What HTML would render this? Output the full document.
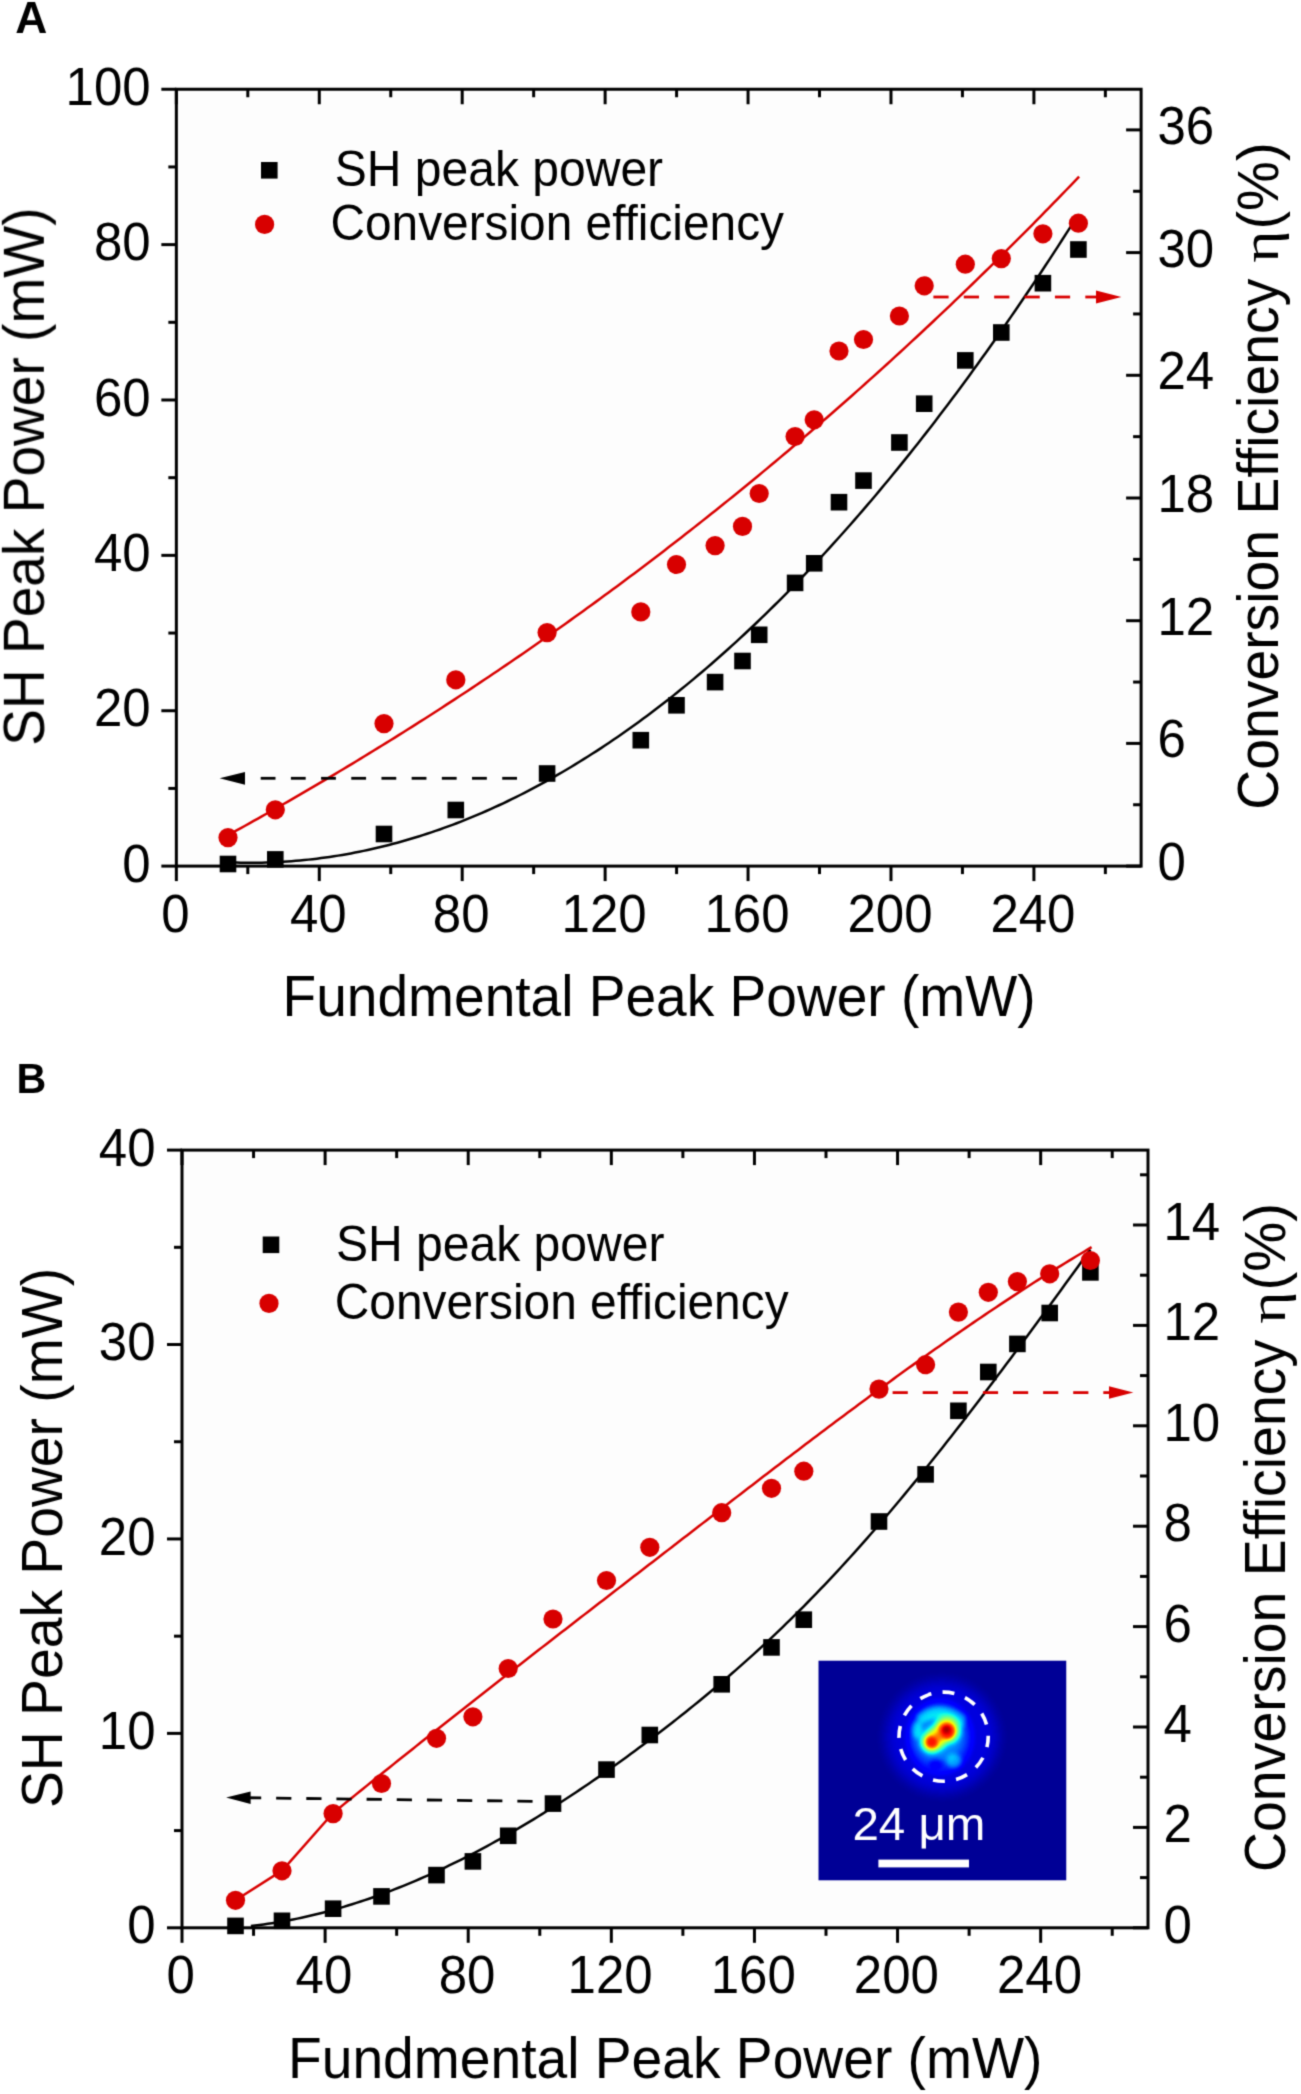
<!DOCTYPE html><html><head><meta charset="utf-8"><style>html,body{margin:0;padding:0;background:#fff}svg{display:block}text{font-family:"Liberation Sans",sans-serif}</style></head><body><svg width="1301" height="2094" viewBox="0 0 1301 2094" font-family="Liberation Sans, sans-serif">
<rect width="1301" height="2094" fill="#fff"/>
<defs><filter id="soft" x="0" y="0" width="1301" height="2094" filterUnits="userSpaceOnUse" color-interpolation-filters="sRGB"><feConvolveMatrix order="3" kernelMatrix="0.02768 0.11101 0.02768 0.11101 0.44521 0.11101 0.02768 0.11101 0.02768" edgeMode="duplicate"/></filter></defs>
<g filter="url(#soft)">
<rect x="176.35" y="89.25" width="964.7499999999999" height="776.85" fill="#fdfdfd"/>
<line x1="176.35" y1="866.10" x2="176.35" y2="881.10" stroke="#000" stroke-width="3" />
<line x1="176.35" y1="89.25" x2="176.35" y2="104.25" stroke="#000" stroke-width="3" />
<line x1="247.81" y1="866.10" x2="247.81" y2="874.10" stroke="#000" stroke-width="3" />
<line x1="247.81" y1="89.25" x2="247.81" y2="97.25" stroke="#000" stroke-width="3" />
<line x1="319.28" y1="866.10" x2="319.28" y2="881.10" stroke="#000" stroke-width="3" />
<line x1="319.28" y1="89.25" x2="319.28" y2="104.25" stroke="#000" stroke-width="3" />
<line x1="390.74" y1="866.10" x2="390.74" y2="874.10" stroke="#000" stroke-width="3" />
<line x1="390.74" y1="89.25" x2="390.74" y2="97.25" stroke="#000" stroke-width="3" />
<line x1="462.20" y1="866.10" x2="462.20" y2="881.10" stroke="#000" stroke-width="3" />
<line x1="462.20" y1="89.25" x2="462.20" y2="104.25" stroke="#000" stroke-width="3" />
<line x1="533.66" y1="866.10" x2="533.66" y2="874.10" stroke="#000" stroke-width="3" />
<line x1="533.66" y1="89.25" x2="533.66" y2="97.25" stroke="#000" stroke-width="3" />
<line x1="605.13" y1="866.10" x2="605.13" y2="881.10" stroke="#000" stroke-width="3" />
<line x1="605.13" y1="89.25" x2="605.13" y2="104.25" stroke="#000" stroke-width="3" />
<line x1="676.59" y1="866.10" x2="676.59" y2="874.10" stroke="#000" stroke-width="3" />
<line x1="676.59" y1="89.25" x2="676.59" y2="97.25" stroke="#000" stroke-width="3" />
<line x1="748.05" y1="866.10" x2="748.05" y2="881.10" stroke="#000" stroke-width="3" />
<line x1="748.05" y1="89.25" x2="748.05" y2="104.25" stroke="#000" stroke-width="3" />
<line x1="819.52" y1="866.10" x2="819.52" y2="874.10" stroke="#000" stroke-width="3" />
<line x1="819.52" y1="89.25" x2="819.52" y2="97.25" stroke="#000" stroke-width="3" />
<line x1="890.98" y1="866.10" x2="890.98" y2="881.10" stroke="#000" stroke-width="3" />
<line x1="890.98" y1="89.25" x2="890.98" y2="104.25" stroke="#000" stroke-width="3" />
<line x1="962.44" y1="866.10" x2="962.44" y2="874.10" stroke="#000" stroke-width="3" />
<line x1="962.44" y1="89.25" x2="962.44" y2="97.25" stroke="#000" stroke-width="3" />
<line x1="1033.91" y1="866.10" x2="1033.91" y2="881.10" stroke="#000" stroke-width="3" />
<line x1="1033.91" y1="89.25" x2="1033.91" y2="104.25" stroke="#000" stroke-width="3" />
<line x1="1105.37" y1="866.10" x2="1105.37" y2="874.10" stroke="#000" stroke-width="3" />
<line x1="1105.37" y1="89.25" x2="1105.37" y2="97.25" stroke="#000" stroke-width="3" />
<line x1="161.35" y1="866.10" x2="176.35" y2="866.10" stroke="#000" stroke-width="3" />
<line x1="168.35" y1="788.41" x2="176.35" y2="788.41" stroke="#000" stroke-width="3" />
<line x1="161.35" y1="710.73" x2="176.35" y2="710.73" stroke="#000" stroke-width="3" />
<line x1="168.35" y1="633.05" x2="176.35" y2="633.05" stroke="#000" stroke-width="3" />
<line x1="161.35" y1="555.36" x2="176.35" y2="555.36" stroke="#000" stroke-width="3" />
<line x1="168.35" y1="477.68" x2="176.35" y2="477.68" stroke="#000" stroke-width="3" />
<line x1="161.35" y1="399.99" x2="176.35" y2="399.99" stroke="#000" stroke-width="3" />
<line x1="168.35" y1="322.31" x2="176.35" y2="322.31" stroke="#000" stroke-width="3" />
<line x1="161.35" y1="244.62" x2="176.35" y2="244.62" stroke="#000" stroke-width="3" />
<line x1="168.35" y1="166.94" x2="176.35" y2="166.94" stroke="#000" stroke-width="3" />
<line x1="161.35" y1="89.25" x2="176.35" y2="89.25" stroke="#000" stroke-width="3" />
<line x1="1126.10" y1="866.10" x2="1141.10" y2="866.10" stroke="#000" stroke-width="3" />
<line x1="1133.10" y1="804.75" x2="1141.10" y2="804.75" stroke="#000" stroke-width="3" />
<line x1="1126.10" y1="743.40" x2="1141.10" y2="743.40" stroke="#000" stroke-width="3" />
<line x1="1133.10" y1="682.05" x2="1141.10" y2="682.05" stroke="#000" stroke-width="3" />
<line x1="1126.10" y1="620.70" x2="1141.10" y2="620.70" stroke="#000" stroke-width="3" />
<line x1="1133.10" y1="559.35" x2="1141.10" y2="559.35" stroke="#000" stroke-width="3" />
<line x1="1126.10" y1="498.00" x2="1141.10" y2="498.00" stroke="#000" stroke-width="3" />
<line x1="1133.10" y1="436.65" x2="1141.10" y2="436.65" stroke="#000" stroke-width="3" />
<line x1="1126.10" y1="375.30" x2="1141.10" y2="375.30" stroke="#000" stroke-width="3" />
<line x1="1133.10" y1="313.95" x2="1141.10" y2="313.95" stroke="#000" stroke-width="3" />
<line x1="1126.10" y1="252.60" x2="1141.10" y2="252.60" stroke="#000" stroke-width="3" />
<line x1="1133.10" y1="191.25" x2="1141.10" y2="191.25" stroke="#000" stroke-width="3" />
<line x1="1126.10" y1="129.90" x2="1141.10" y2="129.90" stroke="#000" stroke-width="3" />
<rect x="176.35" y="89.25" width="964.7499999999999" height="776.85" fill="none" stroke="#000" stroke-width="3"/>
<text transform="translate(175.35,931.50) scale(1,1.04)" font-size="51" text-anchor="middle">0</text>
<text transform="translate(318.28,931.50) scale(1,1.04)" font-size="51" text-anchor="middle">40</text>
<text transform="translate(461.20,931.50) scale(1,1.04)" font-size="51" text-anchor="middle">80</text>
<text transform="translate(604.13,931.50) scale(1,1.04)" font-size="51" text-anchor="middle">120</text>
<text transform="translate(747.05,931.50) scale(1,1.04)" font-size="51" text-anchor="middle">160</text>
<text transform="translate(889.98,931.50) scale(1,1.04)" font-size="51" text-anchor="middle">200</text>
<text transform="translate(1032.91,931.50) scale(1,1.04)" font-size="51" text-anchor="middle">240</text>
<text transform="translate(150.60,881.70) scale(1,1.04)" font-size="51" text-anchor="end">0</text>
<text transform="translate(150.60,726.33) scale(1,1.04)" font-size="51" text-anchor="end">20</text>
<text transform="translate(150.60,570.96) scale(1,1.04)" font-size="51" text-anchor="end">40</text>
<text transform="translate(150.60,415.59) scale(1,1.04)" font-size="51" text-anchor="end">60</text>
<text transform="translate(150.60,260.22) scale(1,1.04)" font-size="51" text-anchor="end">80</text>
<text transform="translate(150.60,104.85) scale(1,1.04)" font-size="51" text-anchor="end">100</text>
<text transform="translate(1157.50,880.10) scale(1,1.04)" font-size="51" text-anchor="start">0</text>
<text transform="translate(1157.50,757.40) scale(1,1.04)" font-size="51" text-anchor="start">6</text>
<text transform="translate(1157.50,634.70) scale(1,1.04)" font-size="51" text-anchor="start">12</text>
<text transform="translate(1157.50,512.00) scale(1,1.04)" font-size="51" text-anchor="start">18</text>
<text transform="translate(1157.50,389.30) scale(1,1.04)" font-size="51" text-anchor="start">24</text>
<text transform="translate(1157.50,266.60) scale(1,1.04)" font-size="51" text-anchor="start">30</text>
<text transform="translate(1157.50,143.90) scale(1,1.04)" font-size="51" text-anchor="start">36</text>
<text transform="translate(15.27,32.60) scale(0.44394,0.43728)" font-size="100" font-weight="bold" fill="#000">A</text>
<text transform="translate(44.00,745.75) rotate(-90) scale(0.55057,0.56709)" font-size="100" fill="#000">SH Peak Power (mW)</text>
<text transform="translate(1278.30,809.77) rotate(-90) scale(0.55346,0.57006)" font-size="100" fill="#000">Conversion Efficiency</text>
<text transform="translate(1278.30,229.57) rotate(-90) scale(0.56084,0.57766)" font-size="100" fill="#000">(%)</text>
<text transform="translate(1278.30,262.66) rotate(-90) scale(0.61748,0.53269)" font-size="100" style="font-family:Liberation Serif,serif" fill="#000">η</text>
<text transform="translate(282.59,1016.00) scale(0.55078,0.56730)" font-size="100" fill="#000">Fundmental Peak Power (mW)</text>
<rect x="261.00" y="162.00" width="16.6" height="16.6" fill="#000"/>
<circle cx="264.6" cy="224.4" r="9.6" fill="#d80000"/>
<text transform="translate(334.80,186.40) scale(0.48021,0.49942)" font-size="100" fill="#000">SH peak power</text>
<text transform="translate(330.51,239.90) scale(0.47805,0.49717)" font-size="100" fill="#000">Conversion efficiency</text>
<path d="M228.00,862.32 L232.23,862.47 L236.47,862.59 L240.70,862.68 L244.94,862.74 L249.17,862.77 L253.41,862.76 L257.64,862.71 L261.88,862.64 L266.11,862.53 L270.35,862.39 L274.58,862.21 L278.82,862.01 L283.05,861.77 L287.29,861.49 L291.52,861.19 L295.75,860.84 L299.99,860.47 L304.22,860.06 L308.46,859.63 L312.69,859.15 L316.93,858.65 L321.16,858.11 L325.40,857.53 L329.63,856.93 L333.87,856.29 L338.10,855.62 L342.34,854.91 L346.57,854.17 L350.81,853.40 L355.04,852.59 L359.27,851.75 L363.51,850.88 L367.74,849.97 L371.98,849.03 L376.21,848.06 L380.45,847.05 L384.68,846.01 L388.92,844.94 L393.15,843.83 L397.39,842.69 L401.62,841.52 L405.86,840.31 L410.09,839.07 L414.33,837.80 L418.56,836.49 L422.79,835.15 L427.03,833.77 L431.26,832.36 L435.50,830.92 L439.73,829.45 L443.97,827.94 L448.20,826.39 L452.44,824.82 L456.67,823.21 L460.91,821.56 L465.14,819.88 L469.38,818.17 L473.61,816.43 L477.85,814.65 L482.08,812.84 L486.32,810.99 L490.55,809.11 L494.78,807.20 L499.02,805.25 L503.25,803.27 L507.49,801.25 L511.72,799.20 L515.96,797.12 L520.19,795.00 L524.43,792.85 L528.66,790.67 L532.90,788.45 L537.13,786.19 L541.37,783.91 L545.60,781.59 L549.84,779.23 L554.07,776.84 L558.30,774.42 L562.54,771.97 L566.77,769.47 L571.01,766.95 L575.24,764.39 L579.48,761.80 L583.71,759.17 L587.95,756.51 L592.18,753.82 L596.42,751.09 L600.65,748.33 L604.89,745.53 L609.12,742.70 L613.36,739.83 L617.59,736.93 L621.82,734.00 L626.06,731.03 L630.29,728.03 L634.53,724.99 L638.76,721.92 L643.00,718.82 L647.23,715.68 L651.47,712.51 L655.70,709.30 L659.94,706.06 L664.17,702.78 L668.41,699.47 L672.64,696.12 L676.88,692.74 L681.11,689.33 L685.34,685.88 L689.58,682.40 L693.81,678.88 L698.05,675.33 L702.28,671.75 L706.52,668.13 L710.75,664.47 L714.99,660.78 L719.22,657.06 L723.46,653.30 L727.69,649.51 L731.93,645.68 L736.16,641.82 L740.40,637.93 L744.63,634.00 L748.86,630.03 L753.10,626.03 L757.33,622.00 L761.57,617.93 L765.80,613.83 L770.04,609.69 L774.27,605.51 L778.51,601.31 L782.74,597.06 L786.98,592.79 L791.21,588.48 L795.45,584.13 L799.68,579.75 L803.92,575.33 L808.15,570.88 L812.38,566.40 L816.62,561.88 L820.85,557.32 L825.09,552.73 L829.32,548.11 L833.56,543.45 L837.79,538.76 L842.03,534.03 L846.26,529.26 L850.50,524.47 L854.73,519.63 L858.97,514.76 L863.20,509.86 L867.44,504.92 L871.67,499.95 L875.91,494.94 L880.14,489.90 L884.37,484.82 L888.61,479.71 L892.84,474.56 L897.08,469.37 L901.31,464.16 L905.55,458.90 L909.78,453.61 L914.02,448.29 L918.25,442.93 L922.49,437.54 L926.72,432.11 L930.96,426.65 L935.19,421.15 L939.43,415.61 L943.66,410.04 L947.89,404.44 L952.13,398.80 L956.36,393.13 L960.60,387.42 L964.83,381.67 L969.07,375.89 L973.30,370.07 L977.54,364.22 L981.77,358.34 L986.01,352.41 L990.24,346.46 L994.48,340.46 L998.71,334.44 L1002.95,328.37 L1007.18,322.28 L1011.41,316.14 L1015.65,309.97 L1019.88,303.77 L1024.12,297.53 L1028.35,291.25 L1032.59,284.94 L1036.82,278.60 L1041.06,272.21 L1045.29,265.80 L1049.53,259.34 L1053.76,252.86 L1058.00,246.33 L1062.23,239.77 L1066.47,233.18 L1070.70,226.55" fill="none" stroke="#000" stroke-width="2.5" stroke-linejoin="round" />
<path d="M228.00,835.16 L232.28,832.82 L236.55,830.46 L240.83,828.10 L245.11,825.72 L249.38,823.34 L253.66,820.96 L257.94,818.56 L262.22,816.16 L266.49,813.75 L270.77,811.33 L275.05,808.90 L279.32,806.47 L283.60,804.02 L287.88,801.57 L292.15,799.11 L296.43,796.65 L300.71,794.17 L304.98,791.69 L309.26,789.20 L313.54,786.69 L317.81,784.19 L322.09,781.67 L326.37,779.14 L330.65,776.61 L334.92,774.07 L339.20,771.52 L343.48,768.96 L347.75,766.39 L352.03,763.81 L356.31,761.23 L360.58,758.64 L364.86,756.03 L369.14,753.42 L373.41,750.80 L377.69,748.18 L381.97,745.54 L386.24,742.89 L390.52,740.24 L394.80,737.58 L399.08,734.90 L403.35,732.22 L407.63,729.53 L411.91,726.83 L416.18,724.13 L420.46,721.41 L424.74,718.68 L429.01,715.95 L433.29,713.20 L437.57,710.45 L441.84,707.69 L446.12,704.92 L450.40,702.13 L454.67,699.34 L458.95,696.54 L463.23,693.74 L467.51,690.92 L471.78,688.09 L476.06,685.25 L480.34,682.41 L484.61,679.55 L488.89,676.68 L493.17,673.81 L497.44,670.93 L501.72,668.03 L506.00,665.13 L510.27,662.21 L514.55,659.29 L518.83,656.36 L523.11,653.42 L527.38,650.46 L531.66,647.50 L535.94,644.53 L540.21,641.55 L544.49,638.55 L548.77,635.55 L553.04,632.54 L557.32,629.52 L561.60,626.49 L565.87,623.45 L570.15,620.39 L574.43,617.33 L578.70,614.26 L582.98,611.18 L587.26,608.09 L591.54,604.98 L595.81,601.87 L600.09,598.75 L604.37,595.61 L608.64,592.47 L612.92,589.32 L617.20,586.15 L621.47,582.98 L625.75,579.79 L630.03,576.59 L634.30,573.39 L638.58,570.17 L642.86,566.94 L647.13,563.70 L651.41,560.46 L655.69,557.20 L659.97,553.93 L664.24,550.64 L668.52,547.35 L672.80,544.05 L677.07,540.74 L681.35,537.41 L685.63,534.08 L689.90,530.73 L694.18,527.37 L698.46,524.01 L702.73,520.63 L707.01,517.24 L711.29,513.84 L715.56,510.42 L719.84,507.00 L724.12,503.57 L728.40,500.12 L732.67,496.66 L736.95,493.19 L741.23,489.72 L745.50,486.22 L749.78,482.72 L754.06,479.21 L758.33,475.68 L762.61,472.15 L766.89,468.60 L771.16,465.04 L775.44,461.47 L779.72,457.89 L783.99,454.29 L788.27,450.69 L792.55,447.07 L796.83,443.44 L801.10,439.80 L805.38,436.15 L809.66,432.49 L813.93,428.81 L818.21,425.12 L822.49,421.42 L826.76,417.71 L831.04,413.99 L835.32,410.25 L839.59,406.51 L843.87,402.75 L848.15,398.98 L852.43,395.19 L856.70,391.40 L860.98,387.59 L865.26,383.77 L869.53,379.94 L873.81,376.09 L878.09,372.24 L882.36,368.37 L886.64,364.49 L890.92,360.60 L895.19,356.69 L899.47,352.77 L903.75,348.84 L908.02,344.90 L912.30,340.95 L916.58,336.98 L920.86,333.00 L925.13,329.00 L929.41,325.00 L933.69,320.98 L937.96,316.95 L942.24,312.91 L946.52,308.85 L950.79,304.78 L955.07,300.70 L959.35,296.61 L963.62,292.50 L967.90,288.38 L972.18,284.25 L976.45,280.10 L980.73,275.94 L985.01,271.77 L989.29,267.58 L993.56,263.39 L997.84,259.18 L1002.12,254.95 L1006.39,250.71 L1010.67,246.46 L1014.95,242.20 L1019.22,237.92 L1023.50,233.63 L1027.78,229.33 L1032.05,225.01 L1036.33,220.68 L1040.61,216.34 L1044.88,211.98 L1049.16,207.61 L1053.44,203.23 L1057.72,198.83 L1061.99,194.42 L1066.27,190.00 L1070.55,185.56 L1074.82,181.11 L1079.10,176.64" fill="none" stroke="#d80000" stroke-width="2.5" stroke-linejoin="round" />
<line x1="260.70" y1="778.30" x2="275.50" y2="778.30" stroke="#000" stroke-width="2.8"/>
<line x1="290.89" y1="778.30" x2="305.69" y2="778.30" stroke="#000" stroke-width="2.8"/>
<line x1="321.08" y1="778.30" x2="335.88" y2="778.30" stroke="#000" stroke-width="2.8"/>
<line x1="351.27" y1="778.30" x2="366.07" y2="778.30" stroke="#000" stroke-width="2.8"/>
<line x1="381.46" y1="778.30" x2="396.26" y2="778.30" stroke="#000" stroke-width="2.8"/>
<line x1="411.65" y1="778.30" x2="426.45" y2="778.30" stroke="#000" stroke-width="2.8"/>
<line x1="441.84" y1="778.30" x2="456.64" y2="778.30" stroke="#000" stroke-width="2.8"/>
<line x1="472.03" y1="778.30" x2="486.83" y2="778.30" stroke="#000" stroke-width="2.8"/>
<line x1="502.22" y1="778.30" x2="517.02" y2="778.30" stroke="#000" stroke-width="2.8"/>
<polygon points="219.60,778.30 245.00,771.90 245.00,784.70" fill="#000"/>
<line x1="933.40" y1="297.00" x2="948.60" y2="297.00" stroke="#d80000" stroke-width="2.8"/>
<line x1="963.78" y1="297.00" x2="978.98" y2="297.00" stroke="#d80000" stroke-width="2.8"/>
<line x1="994.16" y1="297.00" x2="1009.36" y2="297.00" stroke="#d80000" stroke-width="2.8"/>
<line x1="1024.54" y1="297.00" x2="1039.74" y2="297.00" stroke="#d80000" stroke-width="2.8"/>
<line x1="1054.92" y1="297.00" x2="1070.12" y2="297.00" stroke="#d80000" stroke-width="2.8"/>
<line x1="1085.30" y1="297.00" x2="1097.00" y2="297.00" stroke="#d80000" stroke-width="2.8"/>
<polygon points="1121.40,297.00 1096.00,290.50 1096.00,303.50" fill="#d80000"/>
<rect x="219.70" y="855.70" width="16.6" height="16.6" fill="#000"/>
<rect x="267.00" y="851.10" width="16.6" height="16.6" fill="#000"/>
<rect x="375.70" y="825.70" width="16.6" height="16.6" fill="#000"/>
<rect x="447.50" y="801.70" width="16.6" height="16.6" fill="#000"/>
<rect x="538.80" y="765.20" width="16.6" height="16.6" fill="#000"/>
<rect x="632.50" y="731.90" width="16.6" height="16.6" fill="#000"/>
<rect x="668.20" y="697.00" width="16.6" height="16.6" fill="#000"/>
<rect x="706.80" y="673.80" width="16.6" height="16.6" fill="#000"/>
<rect x="734.20" y="652.70" width="16.6" height="16.6" fill="#000"/>
<rect x="750.90" y="626.50" width="16.6" height="16.6" fill="#000"/>
<rect x="786.80" y="574.60" width="16.6" height="16.6" fill="#000"/>
<rect x="805.90" y="555.00" width="16.6" height="16.6" fill="#000"/>
<rect x="830.70" y="493.90" width="16.6" height="16.6" fill="#000"/>
<rect x="855.20" y="472.30" width="16.6" height="16.6" fill="#000"/>
<rect x="891.10" y="434.20" width="16.6" height="16.6" fill="#000"/>
<rect x="915.90" y="395.40" width="16.6" height="16.6" fill="#000"/>
<rect x="957.00" y="352.10" width="16.6" height="16.6" fill="#000"/>
<rect x="993.00" y="324.20" width="16.6" height="16.6" fill="#000"/>
<rect x="1034.60" y="274.90" width="16.6" height="16.6" fill="#000"/>
<rect x="1070.10" y="241.20" width="16.6" height="16.6" fill="#000"/>
<circle cx="228.00" cy="837.60" r="9.6" fill="#d80000"/>
<circle cx="275.30" cy="809.80" r="9.6" fill="#d80000"/>
<circle cx="384.00" cy="723.60" r="9.6" fill="#d80000"/>
<circle cx="455.80" cy="679.80" r="9.6" fill="#d80000"/>
<circle cx="547.10" cy="632.60" r="9.6" fill="#d80000"/>
<circle cx="640.80" cy="611.90" r="9.6" fill="#d80000"/>
<circle cx="676.50" cy="564.50" r="9.6" fill="#d80000"/>
<circle cx="715.10" cy="545.60" r="9.6" fill="#d80000"/>
<circle cx="742.50" cy="526.40" r="9.6" fill="#d80000"/>
<circle cx="759.20" cy="493.50" r="9.6" fill="#d80000"/>
<circle cx="795.10" cy="436.50" r="9.6" fill="#d80000"/>
<circle cx="814.20" cy="419.80" r="9.6" fill="#d80000"/>
<circle cx="839.00" cy="351.00" r="9.6" fill="#d80000"/>
<circle cx="863.50" cy="339.50" r="9.6" fill="#d80000"/>
<circle cx="899.40" cy="316.00" r="9.6" fill="#d80000"/>
<circle cx="924.20" cy="285.80" r="9.6" fill="#d80000"/>
<circle cx="965.30" cy="264.20" r="9.6" fill="#d80000"/>
<circle cx="1001.30" cy="258.60" r="9.6" fill="#d80000"/>
<circle cx="1042.90" cy="233.80" r="9.6" fill="#d80000"/>
<circle cx="1078.40" cy="223.20" r="9.6" fill="#d80000"/>
<rect x="182.0" y="1150.1" width="966.0" height="777.7" fill="#fdfdfd"/>
<line x1="182.00" y1="1927.80" x2="182.00" y2="1942.80" stroke="#000" stroke-width="3" />
<line x1="182.00" y1="1150.10" x2="182.00" y2="1165.10" stroke="#000" stroke-width="3" />
<line x1="253.56" y1="1927.80" x2="253.56" y2="1935.80" stroke="#000" stroke-width="3" />
<line x1="253.56" y1="1150.10" x2="253.56" y2="1158.10" stroke="#000" stroke-width="3" />
<line x1="325.11" y1="1927.80" x2="325.11" y2="1942.80" stroke="#000" stroke-width="3" />
<line x1="325.11" y1="1150.10" x2="325.11" y2="1165.10" stroke="#000" stroke-width="3" />
<line x1="396.67" y1="1927.80" x2="396.67" y2="1935.80" stroke="#000" stroke-width="3" />
<line x1="396.67" y1="1150.10" x2="396.67" y2="1158.10" stroke="#000" stroke-width="3" />
<line x1="468.22" y1="1927.80" x2="468.22" y2="1942.80" stroke="#000" stroke-width="3" />
<line x1="468.22" y1="1150.10" x2="468.22" y2="1165.10" stroke="#000" stroke-width="3" />
<line x1="539.78" y1="1927.80" x2="539.78" y2="1935.80" stroke="#000" stroke-width="3" />
<line x1="539.78" y1="1150.10" x2="539.78" y2="1158.10" stroke="#000" stroke-width="3" />
<line x1="611.33" y1="1927.80" x2="611.33" y2="1942.80" stroke="#000" stroke-width="3" />
<line x1="611.33" y1="1150.10" x2="611.33" y2="1165.10" stroke="#000" stroke-width="3" />
<line x1="682.89" y1="1927.80" x2="682.89" y2="1935.80" stroke="#000" stroke-width="3" />
<line x1="682.89" y1="1150.10" x2="682.89" y2="1158.10" stroke="#000" stroke-width="3" />
<line x1="754.44" y1="1927.80" x2="754.44" y2="1942.80" stroke="#000" stroke-width="3" />
<line x1="754.44" y1="1150.10" x2="754.44" y2="1165.10" stroke="#000" stroke-width="3" />
<line x1="826.00" y1="1927.80" x2="826.00" y2="1935.80" stroke="#000" stroke-width="3" />
<line x1="826.00" y1="1150.10" x2="826.00" y2="1158.10" stroke="#000" stroke-width="3" />
<line x1="897.56" y1="1927.80" x2="897.56" y2="1942.80" stroke="#000" stroke-width="3" />
<line x1="897.56" y1="1150.10" x2="897.56" y2="1165.10" stroke="#000" stroke-width="3" />
<line x1="969.11" y1="1927.80" x2="969.11" y2="1935.80" stroke="#000" stroke-width="3" />
<line x1="969.11" y1="1150.10" x2="969.11" y2="1158.10" stroke="#000" stroke-width="3" />
<line x1="1040.67" y1="1927.80" x2="1040.67" y2="1942.80" stroke="#000" stroke-width="3" />
<line x1="1040.67" y1="1150.10" x2="1040.67" y2="1165.10" stroke="#000" stroke-width="3" />
<line x1="1112.22" y1="1927.80" x2="1112.22" y2="1935.80" stroke="#000" stroke-width="3" />
<line x1="1112.22" y1="1150.10" x2="1112.22" y2="1158.10" stroke="#000" stroke-width="3" />
<line x1="167.00" y1="1927.80" x2="182.00" y2="1927.80" stroke="#000" stroke-width="3" />
<line x1="174.00" y1="1830.59" x2="182.00" y2="1830.59" stroke="#000" stroke-width="3" />
<line x1="167.00" y1="1733.38" x2="182.00" y2="1733.38" stroke="#000" stroke-width="3" />
<line x1="174.00" y1="1636.16" x2="182.00" y2="1636.16" stroke="#000" stroke-width="3" />
<line x1="167.00" y1="1538.95" x2="182.00" y2="1538.95" stroke="#000" stroke-width="3" />
<line x1="174.00" y1="1441.74" x2="182.00" y2="1441.74" stroke="#000" stroke-width="3" />
<line x1="167.00" y1="1344.53" x2="182.00" y2="1344.53" stroke="#000" stroke-width="3" />
<line x1="174.00" y1="1247.31" x2="182.00" y2="1247.31" stroke="#000" stroke-width="3" />
<line x1="167.00" y1="1150.10" x2="182.00" y2="1150.10" stroke="#000" stroke-width="3" />
<line x1="1133.00" y1="1927.80" x2="1148.00" y2="1927.80" stroke="#000" stroke-width="3" />
<line x1="1140.00" y1="1877.60" x2="1148.00" y2="1877.60" stroke="#000" stroke-width="3" />
<line x1="1133.00" y1="1827.40" x2="1148.00" y2="1827.40" stroke="#000" stroke-width="3" />
<line x1="1140.00" y1="1777.20" x2="1148.00" y2="1777.20" stroke="#000" stroke-width="3" />
<line x1="1133.00" y1="1727.00" x2="1148.00" y2="1727.00" stroke="#000" stroke-width="3" />
<line x1="1140.00" y1="1676.80" x2="1148.00" y2="1676.80" stroke="#000" stroke-width="3" />
<line x1="1133.00" y1="1626.60" x2="1148.00" y2="1626.60" stroke="#000" stroke-width="3" />
<line x1="1140.00" y1="1576.40" x2="1148.00" y2="1576.40" stroke="#000" stroke-width="3" />
<line x1="1133.00" y1="1526.20" x2="1148.00" y2="1526.20" stroke="#000" stroke-width="3" />
<line x1="1140.00" y1="1476.00" x2="1148.00" y2="1476.00" stroke="#000" stroke-width="3" />
<line x1="1133.00" y1="1425.80" x2="1148.00" y2="1425.80" stroke="#000" stroke-width="3" />
<line x1="1140.00" y1="1375.60" x2="1148.00" y2="1375.60" stroke="#000" stroke-width="3" />
<line x1="1133.00" y1="1325.40" x2="1148.00" y2="1325.40" stroke="#000" stroke-width="3" />
<line x1="1140.00" y1="1275.20" x2="1148.00" y2="1275.20" stroke="#000" stroke-width="3" />
<line x1="1133.00" y1="1225.00" x2="1148.00" y2="1225.00" stroke="#000" stroke-width="3" />
<line x1="1140.00" y1="1174.80" x2="1148.00" y2="1174.80" stroke="#000" stroke-width="3" />
<rect x="182.0" y="1150.1" width="966.0" height="777.7" fill="none" stroke="#000" stroke-width="3"/>
<text transform="translate(180.80,1993.10) scale(1,1.04)" font-size="51" text-anchor="middle">0</text>
<text transform="translate(323.91,1993.10) scale(1,1.04)" font-size="51" text-anchor="middle">40</text>
<text transform="translate(467.02,1993.10) scale(1,1.04)" font-size="51" text-anchor="middle">80</text>
<text transform="translate(610.13,1993.10) scale(1,1.04)" font-size="51" text-anchor="middle">120</text>
<text transform="translate(753.24,1993.10) scale(1,1.04)" font-size="51" text-anchor="middle">160</text>
<text transform="translate(896.36,1993.10) scale(1,1.04)" font-size="51" text-anchor="middle">200</text>
<text transform="translate(1039.47,1993.10) scale(1,1.04)" font-size="51" text-anchor="middle">240</text>
<text transform="translate(155.50,1943.40) scale(1,1.04)" font-size="51" text-anchor="end">0</text>
<text transform="translate(155.50,1748.97) scale(1,1.04)" font-size="51" text-anchor="end">10</text>
<text transform="translate(155.50,1554.55) scale(1,1.04)" font-size="51" text-anchor="end">20</text>
<text transform="translate(155.50,1360.12) scale(1,1.04)" font-size="51" text-anchor="end">30</text>
<text transform="translate(155.50,1165.70) scale(1,1.04)" font-size="51" text-anchor="end">40</text>
<text transform="translate(1163.50,1942.70) scale(1,1.04)" font-size="51" text-anchor="start">0</text>
<text transform="translate(1163.50,1842.30) scale(1,1.04)" font-size="51" text-anchor="start">2</text>
<text transform="translate(1163.50,1741.90) scale(1,1.04)" font-size="51" text-anchor="start">4</text>
<text transform="translate(1163.50,1641.50) scale(1,1.04)" font-size="51" text-anchor="start">6</text>
<text transform="translate(1163.50,1541.10) scale(1,1.04)" font-size="51" text-anchor="start">8</text>
<text transform="translate(1163.50,1440.70) scale(1,1.04)" font-size="51" text-anchor="start">10</text>
<text transform="translate(1163.50,1340.30) scale(1,1.04)" font-size="51" text-anchor="start">12</text>
<text transform="translate(1163.50,1239.90) scale(1,1.04)" font-size="51" text-anchor="start">14</text>
<text transform="translate(16.52,1093.20) scale(0.41148,0.42382)" font-size="100" font-weight="bold" fill="#000">B</text>
<text transform="translate(61.80,1807.96) rotate(-90) scale(0.55253,0.56911)" font-size="100" fill="#000">SH Peak Power (mW)</text>
<text transform="translate(1285.20,1872.07) rotate(-90) scale(0.55472,0.57136)" font-size="100" fill="#000">Conversion Efficiency</text>
<text transform="translate(1285.20,1290.47) rotate(-90) scale(0.56154,0.57838)" font-size="100" fill="#000">(%)</text>
<text transform="translate(1285.20,1323.66) rotate(-90) scale(0.61748,0.53269)" font-size="100" style="font-family:Liberation Serif,serif" fill="#000">η</text>
<text transform="translate(288.03,2078.30) scale(0.55200,0.56856)" font-size="100" fill="#000">Fundmental Peak Power (mW)</text>
<rect x="262.70" y="1236.50" width="16.6" height="16.6" fill="#000"/>
<circle cx="269" cy="1303.4" r="9.6" fill="#d80000"/>
<text transform="translate(336.00,1260.70) scale(0.48065,0.49988)" font-size="100" fill="#000">SH peak power</text>
<text transform="translate(334.81,1319.20) scale(0.47837,0.49750)" font-size="100" fill="#000">Conversion efficiency</text>
<path d="M250.90,1926.06 L255.12,1925.57 L259.34,1925.03 L263.56,1924.47 L267.77,1923.86 L271.99,1923.22 L276.21,1922.54 L280.43,1921.82 L284.65,1921.07 L288.87,1920.28 L293.09,1919.46 L297.30,1918.60 L301.52,1917.71 L305.74,1916.78 L309.96,1915.81 L314.18,1914.81 L318.40,1913.78 L322.62,1912.71 L326.83,1911.60 L331.05,1910.46 L335.27,1909.29 L339.49,1908.09 L343.71,1906.85 L347.93,1905.57 L352.15,1904.27 L356.36,1902.93 L360.58,1901.56 L364.80,1900.15 L369.02,1898.71 L373.24,1897.24 L377.46,1895.74 L381.68,1894.21 L385.89,1892.64 L390.11,1891.05 L394.33,1889.42 L398.55,1887.76 L402.77,1886.07 L406.99,1884.35 L411.21,1882.60 L415.43,1880.82 L419.64,1879.00 L423.86,1877.16 L428.08,1875.29 L432.30,1873.39 L436.52,1871.46 L440.74,1869.50 L444.96,1867.51 L449.17,1865.49 L453.39,1863.44 L457.61,1861.37 L461.83,1859.26 L466.05,1857.13 L470.27,1854.97 L474.49,1852.79 L478.70,1850.57 L482.92,1848.33 L487.14,1846.06 L491.36,1843.76 L495.58,1841.44 L499.80,1839.09 L504.02,1836.71 L508.23,1834.31 L512.45,1831.88 L516.67,1829.43 L520.89,1826.95 L525.11,1824.44 L529.33,1821.91 L533.55,1819.36 L537.76,1816.78 L541.98,1814.17 L546.20,1811.54 L550.42,1808.89 L554.64,1806.21 L558.86,1803.51 L563.08,1800.78 L567.29,1798.03 L571.51,1795.26 L575.73,1792.46 L579.95,1789.64 L584.17,1786.80 L588.39,1783.93 L592.61,1781.05 L596.82,1778.14 L601.04,1775.21 L605.26,1772.25 L609.48,1769.28 L613.70,1766.28 L617.92,1763.26 L622.14,1760.23 L626.35,1757.17 L630.57,1754.09 L634.79,1750.99 L639.01,1747.86 L643.23,1744.72 L647.45,1741.56 L651.67,1738.38 L655.88,1735.18 L660.10,1731.96 L664.32,1728.71 L668.54,1725.45 L672.76,1722.16 L676.98,1718.86 L681.20,1715.52 L685.42,1712.17 L689.63,1708.79 L693.85,1705.38 L698.07,1701.96 L702.29,1698.50 L706.51,1695.02 L710.73,1691.51 L714.95,1687.98 L719.16,1684.41 L723.38,1680.82 L727.60,1677.20 L731.82,1673.55 L736.04,1669.87 L740.26,1666.16 L744.48,1662.42 L748.69,1658.65 L752.91,1654.85 L757.13,1651.01 L761.35,1647.14 L765.57,1643.24 L769.79,1639.30 L774.01,1635.33 L778.22,1631.32 L782.44,1627.28 L786.66,1623.20 L790.88,1619.09 L795.10,1614.93 L799.32,1610.74 L803.54,1606.52 L807.75,1602.25 L811.97,1597.94 L816.19,1593.60 L820.41,1589.22 L824.63,1584.80 L828.85,1580.34 L833.07,1575.85 L837.28,1571.32 L841.50,1566.75 L845.72,1562.15 L849.94,1557.51 L854.16,1552.83 L858.38,1548.12 L862.60,1543.38 L866.81,1538.60 L871.03,1533.79 L875.25,1528.95 L879.47,1524.07 L883.69,1519.16 L887.91,1514.21 L892.13,1509.23 L896.34,1504.23 L900.56,1499.18 L904.78,1494.11 L909.00,1489.01 L913.22,1483.88 L917.44,1478.72 L921.66,1473.52 L925.87,1468.31 L930.09,1463.06 L934.31,1457.78 L938.53,1452.48 L942.75,1447.16 L946.97,1441.81 L951.19,1436.43 L955.41,1431.03 L959.62,1425.61 L963.84,1420.17 L968.06,1414.70 L972.28,1409.21 L976.50,1403.70 L980.72,1398.17 L984.94,1392.63 L989.15,1387.06 L993.37,1381.47 L997.59,1375.87 L1001.81,1370.25 L1006.03,1364.61 L1010.25,1358.96 L1014.47,1353.30 L1018.68,1347.61 L1022.90,1341.92 L1027.12,1336.21 L1031.34,1330.49 L1035.56,1324.75 L1039.78,1319.01 L1044.00,1313.25 L1048.21,1307.49 L1052.43,1301.71 L1056.65,1295.93 L1060.87,1290.14 L1065.09,1284.34 L1069.31,1278.53 L1073.53,1272.72 L1077.74,1266.90 L1081.96,1261.07 L1086.18,1255.25 L1090.40,1249.41" fill="none" stroke="#000" stroke-width="2.5" stroke-linejoin="round" />
<path d="M235.10,1900.50 L282.40,1870.40 L332.60,1813.46 L336.41,1810.35 L340.23,1807.24 L344.04,1804.14 L347.86,1801.04 L351.67,1797.94 L355.48,1794.85 L359.30,1791.76 L363.11,1788.68 L366.93,1785.60 L370.74,1782.52 L374.55,1779.45 L378.37,1776.38 L382.18,1773.31 L386.00,1770.25 L389.81,1767.19 L393.63,1764.14 L397.44,1761.08 L401.25,1758.04 L405.07,1754.99 L408.88,1751.95 L412.70,1748.91 L416.51,1745.88 L420.32,1742.84 L424.14,1739.81 L427.95,1736.79 L431.77,1733.76 L435.58,1730.74 L439.39,1727.73 L443.21,1724.71 L447.02,1721.70 L450.84,1718.69 L454.65,1715.68 L458.46,1712.68 L462.28,1709.67 L466.09,1706.68 L469.91,1703.68 L473.72,1700.68 L477.53,1697.69 L481.35,1694.70 L485.16,1691.71 L488.98,1688.73 L492.79,1685.74 L496.61,1682.76 L500.42,1679.78 L504.23,1676.81 L508.05,1673.83 L511.86,1670.86 L515.68,1667.88 L519.49,1664.91 L523.30,1661.94 L527.12,1658.98 L530.93,1656.01 L534.75,1653.05 L538.56,1650.09 L542.37,1647.12 L546.19,1644.17 L550.00,1641.21 L553.82,1638.25 L557.63,1635.29 L561.44,1632.34 L565.26,1629.39 L569.07,1626.43 L572.89,1623.48 L576.70,1620.53 L580.51,1617.58 L584.33,1614.63 L588.14,1611.68 L591.96,1608.74 L595.77,1605.79 L599.58,1602.85 L603.40,1599.90 L607.21,1596.95 L611.03,1594.01 L614.84,1591.07 L618.66,1588.12 L622.47,1585.18 L626.28,1582.24 L630.10,1579.29 L633.91,1576.35 L637.73,1573.41 L641.54,1570.47 L645.35,1567.53 L649.17,1564.58 L652.98,1561.64 L656.80,1558.70 L660.61,1555.76 L664.42,1552.81 L668.24,1549.87 L672.05,1546.93 L675.87,1543.98 L679.68,1541.04 L683.49,1538.09 L687.31,1535.15 L691.12,1532.20 L694.94,1529.26 L698.75,1526.31 L702.56,1523.37 L706.38,1520.42 L710.19,1517.48 L714.01,1514.53 L717.82,1511.59 L721.64,1508.64 L725.45,1505.70 L729.26,1502.76 L733.08,1499.82 L736.89,1496.88 L740.71,1493.95 L744.52,1491.01 L748.33,1488.08 L752.15,1485.15 L755.96,1482.22 L759.78,1479.29 L763.59,1476.36 L767.40,1473.44 L771.22,1470.52 L775.03,1467.60 L778.85,1464.68 L782.66,1461.77 L786.47,1458.86 L790.29,1455.96 L794.10,1453.05 L797.92,1450.15 L801.73,1447.26 L805.54,1444.36 L809.36,1441.47 L813.17,1438.59 L816.99,1435.71 L820.80,1432.83 L824.62,1429.96 L828.43,1427.09 L832.24,1424.22 L836.06,1421.37 L839.87,1418.51 L843.69,1415.66 L847.50,1412.82 L851.31,1409.98 L855.13,1407.14 L858.94,1404.31 L862.76,1401.49 L866.57,1398.67 L870.38,1395.86 L874.20,1393.06 L878.01,1390.26 L881.83,1387.46 L885.64,1384.68 L889.45,1381.90 L893.27,1379.12 L897.08,1376.36 L900.90,1373.60 L904.71,1370.84 L908.52,1368.10 L912.34,1365.36 L916.15,1362.63 L919.97,1359.90 L923.78,1357.19 L927.59,1354.48 L931.41,1351.78 L935.22,1349.08 L939.04,1346.40 L942.85,1343.72 L946.67,1341.05 L950.48,1338.40 L954.29,1335.74 L958.11,1333.10 L961.92,1330.47 L965.74,1327.85 L969.55,1325.23 L973.36,1322.63 L977.18,1320.03 L980.99,1317.44 L984.81,1314.87 L988.62,1312.30 L992.43,1309.74 L996.25,1307.20 L1000.06,1304.66 L1003.88,1302.13 L1007.69,1299.62 L1011.50,1297.11 L1015.32,1294.62 L1019.13,1292.13 L1022.95,1289.66 L1026.76,1287.20 L1030.57,1284.75 L1034.39,1282.31 L1038.20,1279.88 L1042.02,1277.47 L1045.83,1275.06 L1049.65,1272.67 L1053.46,1270.29 L1057.27,1267.92 L1061.09,1265.57 L1064.90,1263.22 L1068.72,1260.89 L1072.53,1258.57 L1076.34,1256.27 L1080.16,1253.98 L1083.97,1251.70 L1087.79,1249.43 L1091.60,1247.18" fill="none" stroke="#d80000" stroke-width="2.5" stroke-linejoin="round" />
<line x1="246.00" y1="1797.75" x2="261.20" y2="1797.94" stroke="#000" stroke-width="2.8"/>
<line x1="276.15" y1="1798.12" x2="291.35" y2="1798.31" stroke="#000" stroke-width="2.8"/>
<line x1="306.30" y1="1798.49" x2="321.50" y2="1798.68" stroke="#000" stroke-width="2.8"/>
<line x1="336.45" y1="1798.87" x2="351.65" y2="1799.06" stroke="#000" stroke-width="2.8"/>
<line x1="366.60" y1="1799.24" x2="381.80" y2="1799.43" stroke="#000" stroke-width="2.8"/>
<line x1="396.75" y1="1799.62" x2="411.95" y2="1799.80" stroke="#000" stroke-width="2.8"/>
<line x1="426.90" y1="1799.99" x2="442.10" y2="1800.18" stroke="#000" stroke-width="2.8"/>
<line x1="457.05" y1="1800.36" x2="472.25" y2="1800.55" stroke="#000" stroke-width="2.8"/>
<line x1="487.20" y1="1800.74" x2="502.40" y2="1800.93" stroke="#000" stroke-width="2.8"/>
<line x1="517.35" y1="1801.11" x2="532.55" y2="1801.30" stroke="#000" stroke-width="2.8"/>
<polygon points="226.10,1797.50 250.60,1791.55 250.60,1804.05" fill="#000"/>
<line x1="892.60" y1="1392.60" x2="907.80" y2="1392.60" stroke="#d80000" stroke-width="2.8"/>
<line x1="922.70" y1="1392.60" x2="937.90" y2="1392.60" stroke="#d80000" stroke-width="2.8"/>
<line x1="952.80" y1="1392.60" x2="968.00" y2="1392.60" stroke="#d80000" stroke-width="2.8"/>
<line x1="982.90" y1="1392.60" x2="998.10" y2="1392.60" stroke="#d80000" stroke-width="2.8"/>
<line x1="1013.00" y1="1392.60" x2="1028.20" y2="1392.60" stroke="#d80000" stroke-width="2.8"/>
<line x1="1043.10" y1="1392.60" x2="1058.30" y2="1392.60" stroke="#d80000" stroke-width="2.8"/>
<line x1="1073.20" y1="1392.60" x2="1088.40" y2="1392.60" stroke="#d80000" stroke-width="2.8"/>
<line x1="1103.30" y1="1392.60" x2="1110.00" y2="1392.60" stroke="#d80000" stroke-width="2.8"/>
<polygon points="1133.30,1392.60 1109.00,1386.35 1109.00,1398.85" fill="#d80000"/>
<rect x="227.20" y="1917.60" width="16.6" height="16.6" fill="#000"/>
<rect x="273.70" y="1912.50" width="16.6" height="16.6" fill="#000"/>
<rect x="324.80" y="1900.40" width="16.6" height="16.6" fill="#000"/>
<rect x="373.20" y="1888.10" width="16.6" height="16.6" fill="#000"/>
<rect x="428.20" y="1866.80" width="16.6" height="16.6" fill="#000"/>
<rect x="464.60" y="1853.10" width="16.6" height="16.6" fill="#000"/>
<rect x="499.90" y="1827.50" width="16.6" height="16.6" fill="#000"/>
<rect x="544.70" y="1795.30" width="16.6" height="16.6" fill="#000"/>
<rect x="598.20" y="1761.30" width="16.6" height="16.6" fill="#000"/>
<rect x="641.50" y="1726.70" width="16.6" height="16.6" fill="#000"/>
<rect x="713.40" y="1676.00" width="16.6" height="16.6" fill="#000"/>
<rect x="763.20" y="1639.10" width="16.6" height="16.6" fill="#000"/>
<rect x="795.50" y="1611.40" width="16.6" height="16.6" fill="#000"/>
<rect x="870.70" y="1513.20" width="16.6" height="16.6" fill="#000"/>
<rect x="917.30" y="1466.10" width="16.6" height="16.6" fill="#000"/>
<rect x="950.10" y="1402.50" width="16.6" height="16.6" fill="#000"/>
<rect x="980.00" y="1363.70" width="16.6" height="16.6" fill="#000"/>
<rect x="1009.10" y="1335.60" width="16.6" height="16.6" fill="#000"/>
<rect x="1041.40" y="1304.70" width="16.6" height="16.6" fill="#000"/>
<rect x="1082.10" y="1264.10" width="16.6" height="16.6" fill="#000"/>
<circle cx="235.50" cy="1900.30" r="9.6" fill="#d80000"/>
<circle cx="282.00" cy="1870.80" r="9.6" fill="#d80000"/>
<circle cx="333.10" cy="1813.60" r="9.6" fill="#d80000"/>
<circle cx="381.50" cy="1783.50" r="9.6" fill="#d80000"/>
<circle cx="436.50" cy="1738.30" r="9.6" fill="#d80000"/>
<circle cx="472.90" cy="1716.80" r="9.6" fill="#d80000"/>
<circle cx="508.20" cy="1668.50" r="9.6" fill="#d80000"/>
<circle cx="553.00" cy="1619.00" r="9.6" fill="#d80000"/>
<circle cx="606.50" cy="1580.50" r="9.6" fill="#d80000"/>
<circle cx="649.80" cy="1547.30" r="9.6" fill="#d80000"/>
<circle cx="721.70" cy="1512.70" r="9.6" fill="#d80000"/>
<circle cx="771.50" cy="1488.30" r="9.6" fill="#d80000"/>
<circle cx="803.80" cy="1471.20" r="9.6" fill="#d80000"/>
<circle cx="879.00" cy="1389.10" r="9.6" fill="#d80000"/>
<circle cx="925.60" cy="1364.70" r="9.6" fill="#d80000"/>
<circle cx="958.40" cy="1312.10" r="9.6" fill="#d80000"/>
<circle cx="988.30" cy="1292.30" r="9.6" fill="#d80000"/>
<circle cx="1017.40" cy="1281.60" r="9.6" fill="#d80000"/>
<circle cx="1049.70" cy="1273.80" r="9.6" fill="#d80000"/>
<circle cx="1090.40" cy="1260.50" r="9.6" fill="#d80000"/>
<defs><filter id="jet" x="0" y="0" width="1" height="1" color-interpolation-filters="sRGB"><feComponentTransfer><feFuncR type="table" tableValues="0.000 0.000 0.000 0.000 0.000 0.000 0.000 0.000 0.000 0.000 0.000 0.000 0.000 0.000 0.000 0.000 0.000 0.000 0.000 0.000 0.000 0.000 0.000 0.030 0.081 0.131 0.181 0.232 0.282 0.333 0.383 0.433 0.484 0.534 0.585 0.635 0.685 0.736 0.786 0.837 0.887 0.937 0.988 1.000 1.000 1.000 1.000 1.000 1.000 1.000 1.000 1.000 1.000 1.000 1.000 1.000 1.000 0.997 0.926 0.855 0.784 0.713 0.642 0.571 0.500"/><feFuncG type="table" tableValues="0.000 0.000 0.000 0.000 0.000 0.000 0.000 0.000 0.000 0.062 0.125 0.188 0.250 0.312 0.375 0.438 0.500 0.562 0.625 0.688 0.750 0.812 0.875 0.938 1.000 1.000 1.000 1.000 1.000 1.000 1.000 1.000 1.000 1.000 1.000 1.000 1.000 1.000 1.000 1.000 1.000 0.998 0.940 0.882 0.824 0.766 0.708 0.650 0.593 0.535 0.477 0.419 0.361 0.303 0.245 0.188 0.130 0.072 0.014 0.000 0.000 0.000 0.000 0.000 0.000"/><feFuncB type="table" tableValues="0.500 0.571 0.642 0.713 0.784 0.855 0.926 0.997 1.000 1.000 1.000 1.000 1.000 1.000 1.000 1.000 1.000 1.000 1.000 1.000 1.000 1.000 0.988 0.938 0.887 0.837 0.786 0.736 0.685 0.635 0.585 0.534 0.484 0.433 0.383 0.333 0.282 0.232 0.181 0.131 0.081 0.030 0.000 0.000 0.000 0.000 0.000 0.000 0.000 0.000 0.000 0.000 0.000 0.000 0.000 0.000 0.000 0.000 0.000 0.000 0.000 0.000 0.000 0.000 0.000"/></feComponentTransfer></filter><filter id="b1" x="-50%" y="-50%" width="200%" height="200%" color-interpolation-filters="sRGB"><feGaussianBlur stdDeviation="1.5"/></filter><filter id="b2" x="-50%" y="-50%" width="200%" height="200%" color-interpolation-filters="sRGB"><feGaussianBlur stdDeviation="2.2"/></filter><filter id="b3" x="-50%" y="-50%" width="200%" height="200%" color-interpolation-filters="sRGB"><feGaussianBlur stdDeviation="3.5"/></filter><filter id="b4" x="-50%" y="-50%" width="200%" height="200%" color-interpolation-filters="sRGB"><feGaussianBlur stdDeviation="7"/></filter><clipPath id="insclip"><rect x="818.3" y="1660.4" width="248.2" height="220.2"/></clipPath></defs>
<g clip-path="url(#insclip)"><g filter="url(#jet)"><rect x="818.3" y="1660.4" width="248.2" height="220.2" fill="rgb(5,5,5)"/><circle cx="942" cy="1737" r="56" fill="#fff" fill-opacity="0.066" filter="url(#b4)"/><ellipse cx="940" cy="1737" rx="32" ry="36" fill="#fff" fill-opacity="0.093" filter="url(#b3)"/><g opacity="0.143" filter="url(#b2)" fill="#fff"><path d="M916,1716 Q938,1696 966,1716 L964,1728 Q944,1710 920,1724 Z"/><ellipse cx="954" cy="1761" rx="7.5" ry="7"/><ellipse cx="917" cy="1730" rx="5" ry="9"/></g><ellipse cx="939" cy="1736" rx="25" ry="26" fill="#fff" fill-opacity="0.108" filter="url(#b3)"/><g fill="#fff" opacity="0.200" filter="url(#b2)"><circle cx="931.9" cy="1742.0" r="12"/><circle cx="947.0" cy="1730.1" r="15"/><line x1="931.9" y1="1742.0" x2="946.5" y2="1730.1" stroke="#fff" stroke-width="26"/></g><g fill="#fff" opacity="0.433" filter="url(#b2)"><circle cx="931.9" cy="1742.0" r="8.8"/><circle cx="946.5" cy="1730.1" r="11"/><line x1="931.9" y1="1742.0" x2="946.5" y2="1730.1" stroke="#fff" stroke-width="18"/></g><g fill="#fff" opacity="0.353" filter="url(#b1)"><circle cx="931.9" cy="1742.0" r="6.6"/><circle cx="946.5" cy="1730.8999999999999" r="8.6"/><line x1="931.9" y1="1742.0" x2="946.5" y2="1730.1" stroke="#fff" stroke-width="8"/></g><g fill="#fff" opacity="0.500" filter="url(#b1)"><circle cx="931.9" cy="1742.0" r="5.0"/><ellipse cx="947.0" cy="1731.1" rx="6.8" ry="7.0"/></g><circle cx="946.5" cy="1729.8" r="3.4" fill="#fff" fill-opacity="0.727" filter="url(#b1)"/><ellipse cx="936" cy="1764" rx="6.5" ry="5" fill="#000" fill-opacity="0.4" filter="url(#b2)"/></g></g>
<circle cx="943.6" cy="1736.7" r="44.6" fill="none" stroke="#fff" stroke-width="3.6" stroke-dasharray="12 11.35" stroke-dashoffset="1.4"/>
<text transform="translate(852.42,1839.60) scale(0.47537,0.46824)" font-size="100" fill="#fff">24 μm</text>
<rect x="878.4" y="1859.6" width="90.6" height="7.8" fill="#fff"/>
</g>
</svg></body></html>
